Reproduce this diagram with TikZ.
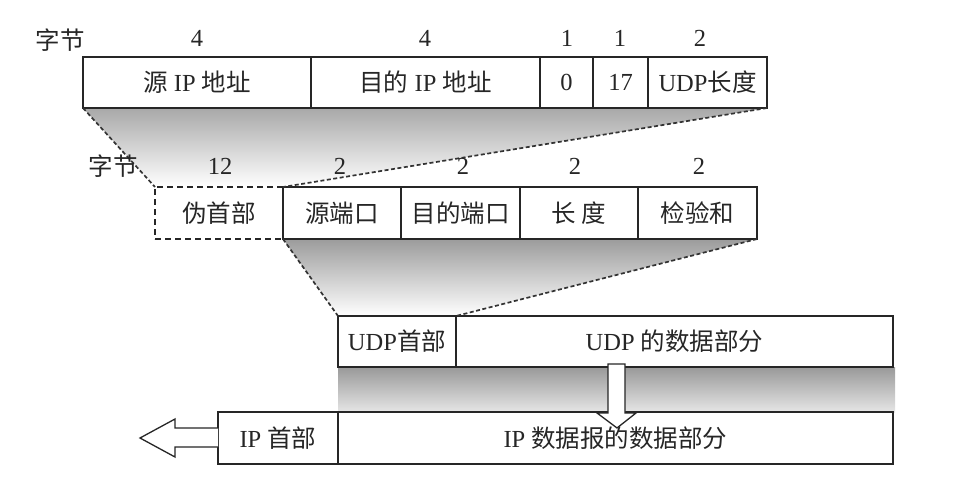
\documentclass[tikz,border=0pt]{standalone}
\usepackage{fontspec}
\setmainfont{Liberation Serif}
\newfontfamily\zhfont{Noto Sans CJK SC}
\newcommand\zh[1]{{\zhfont #1}}
\begin{document}
\begin{tikzpicture}[x=1pt,y=-1pt,
  txt/.style={text=black!85, font=\fontsize{24.5}{28}\selectfont, inner sep=0pt},
  cell/.style={draw=black!85, line width=1.3pt, inner sep=0pt, outer sep=0pt, anchor=north west, txt},
  dline/.style={draw=black!80, line width=1.7pt, dash pattern=on 4pt off 2.5pt},
  hollow/.style={draw=black!85, line width=1.3pt, fill=white, line join=miter}
]
\useasboundingbox (0,0) rectangle (979,500);

% corner coordinates of the fans
\coordinate (r1sw) at (83,108);
\coordinate (r1se) at (767,108);
\coordinate (r2nw) at (155,187);
\coordinate (r2mid) at (283,187);
\coordinate (r2sw) at (283,239);
\coordinate (r2se) at (757,239);
\coordinate (r3nw) at (338,316);
\coordinate (r3ne) at (456,316);

% shaded fans
\shade[top color=gray!68, bottom color=white]
  (r1sw) -- (r1se) -- (r2mid) -- (r2nw) -- cycle;
\shade[top color=gray!78, bottom color=white]
  (r2sw) -- (r2se) -- (r3ne) -- (r3nw) -- cycle;
\shade[top color=gray!80, bottom color=gray!20]
  (338,367) rectangle (895,412);

% row 1: IP pseudo header contents
\node[cell, minimum width=228pt, minimum height=51pt] (sip) at (83,57) {\zh{源} IP \zh{地址}};
\node[cell, minimum width=229pt, minimum height=51pt] (dip) at (311,57) {\zh{目的} IP \zh{地址}};
\node[cell, minimum width=53pt, minimum height=51pt] (zero) at (540,57) {0};
\node[cell, minimum width=55pt, minimum height=51pt] (proto) at (593,57) {17};
\node[cell, minimum width=119pt, minimum height=51pt] (ulen) at (648,57) {UDP\zh{长度}};

% row 2: pseudo header + UDP header
\node[cell, minimum width=128pt, minimum height=52pt, dash pattern=on 6pt off 4pt] (pseudo) at (155,187) {\zh{伪首部}};
\node[cell, minimum width=118pt, minimum height=52pt] (sport) at (283,187) {\zh{源端口}};
\node[cell, minimum width=119pt, minimum height=52pt] (dport) at (401,187) {\zh{目的端口}};
\node[cell, minimum width=118pt, minimum height=52pt] (len) at (520,187) {\zh{长\ 度}};
\node[cell, minimum width=119pt, minimum height=52pt] (csum) at (638,187) {\zh{检验和}};

% row 3: UDP datagram
\node[cell, minimum width=118pt, minimum height=51pt] (uh) at (338,316) {UDP\zh{首部}};
\node[cell, minimum width=437pt, minimum height=51pt] (ud) at (456,316) {UDP \zh{的数据部分}};

% dashed fan edges
\draw[dline] (sip.south west) -- (pseudo.north west);
\draw[dline] (ulen.south east) -- (sport.north west);
\draw[dline] (sport.south west) -- (uh.north west);
\draw[dline] (csum.south east) -- (uh.north east);

% row 4: IP datagram
\node[cell, minimum width=120pt, minimum height=52pt] (ih) at (218,412) {IP \zh{首部}};
\node[cell, minimum width=555pt, minimum height=52pt] (id) at (338,412) {IP \zh{数据报的数据部分}};

% byte labels
\node[txt] (b1) at (60,40) {\zh{字节}};
\node[txt] at (197,38) {4};
\node[txt] at (425,38) {4};
\node[txt] at (567,38) {1};
\node[txt] at (620,38) {1};
\node[txt] at (700,38) {2};
\node[txt] (b2) at (113,166) {\zh{字节}};
\node[txt] at (220,166) {12};
\node[txt] at (340,166) {2};
\node[txt] at (463,166) {2};
\node[txt] at (575,166) {2};
\node[txt] at (699,166) {2};

% down arrow from UDP datagram into IP data
\coordinate (dtip) at (617,428);
\draw[hollow] (608,413) -- (608,364) -- (625,364) -- (625,413) -- (636,413) -- (dtip) -- (597,413) -- cycle;
\draw[draw=white, line width=1.6pt] (609.5,413) -- (623.5,413);

% left arrow out of IP datagram
\coordinate (ltip) at (140,438);
\draw[hollow] (ih.west |- 0,428) -- (175,428) -- (175,419) -- (ltip) -- (175,457) -- (175,447) -- (ih.west |- 0,447);
\end{tikzpicture}
\end{document}
